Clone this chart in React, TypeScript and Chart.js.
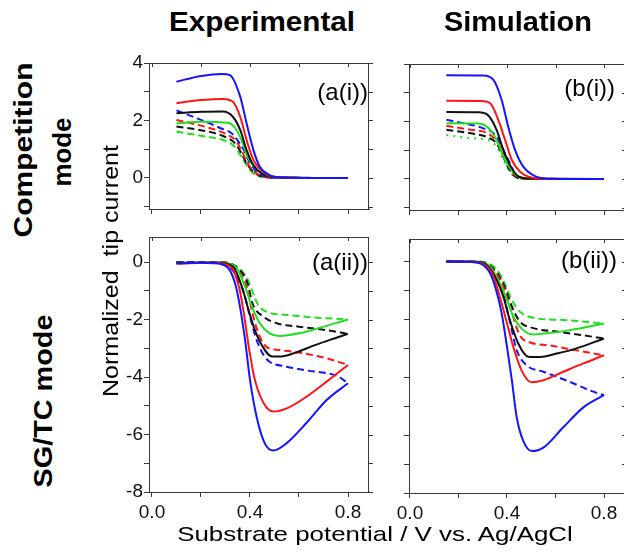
import React, { useEffect, useRef } from 'react';
import { Chart, registerables } from 'chart.js';

Chart.register(...registerables);

// ---------- data (x = substrate potential / V, y = normalized tip current) ----------
// (a(i)) Experimental, competition mode
const aiBlue = [[0.1, 3.35], [0.2, 3.55], [0.285, 3.62], [0.318, 3.58], [0.36, 2.83], [0.386, 1.9], [0.414, 0.97], [0.44, 0.39], [0.48, 0.1], [0.53, 0.02], [0.8, 0.0]];
const aiRed = [[0.1, 2.6], [0.2, 2.71], [0.29, 2.75], [0.33, 2.65], [0.36, 2.13], [0.386, 1.32], [0.414, 0.63], [0.46, 0.17], [0.52, 0.02], [0.8, 0.0]];
const aiBlack = [[0.1, 2.25], [0.2, 2.3], [0.29, 2.31], [0.33, 2.13], [0.36, 1.67], [0.386, 0.97], [0.414, 0.45], [0.46, 0.1], [0.52, 0.02], [0.8, 0.0]];
const aiGreen = [[0.1, 1.9], [0.2, 1.96], [0.31, 1.92], [0.34, 1.73], [0.365, 1.32], [0.39, 0.74], [0.43, 0.28], [0.47, 0.07], [0.52, 0.02], [0.8, 0.0]];
const aiBlueD = [[0.1, 2.35], [0.2, 2.02], [0.28, 1.73], [0.33, 1.52], [0.35, 1.3], [0.375, 0.97], [0.4, 0.51], [0.44, 0.14], [0.5, 0.02], [0.8, 0.0]];
const aiRedD = [[0.1, 2.02], [0.2, 1.82], [0.26, 1.67], [0.31, 1.5], [0.34, 1.32], [0.365, 0.97], [0.39, 0.51], [0.43, 0.14], [0.5, 0.01], [0.8, 0.0]];
const aiBlackD = [[0.1, 1.79], [0.22, 1.63], [0.29, 1.46], [0.34, 1.2], [0.365, 0.86], [0.39, 0.45], [0.43, 0.12], [0.5, 0.01], [0.8, 0.0]];
const aiGreenD = [[0.1, 1.61], [0.22, 1.44], [0.29, 1.32], [0.33, 1.15], [0.365, 0.74], [0.39, 0.39], [0.43, 0.07], [0.5, 0.01], [0.8, 0.0]];

// (b(i)) Simulation, competition mode
const biBlue = [[0.15, 3.61], [0.3, 3.6], [0.344, 3.45], [0.378, 2.75], [0.405, 1.82], [0.433, 1.01], [0.467, 0.43], [0.52, 0.08], [0.57, 0.01], [0.8, 0.0]];
const biRed = [[0.15, 2.72], [0.29, 2.71], [0.33, 2.64], [0.364, 2.06], [0.392, 1.36], [0.42, 0.66], [0.454, 0.25], [0.5, 0.05], [0.55, 0.01], [0.8, 0.0]];
const biBlack = [[0.15, 2.33], [0.28, 2.32], [0.32, 2.23], [0.357, 1.71], [0.385, 1.01], [0.412, 0.49], [0.445, 0.1], [0.5, 0.01], [0.8, 0.0]];
const biGreen = [[0.15, 1.94], [0.28, 1.93], [0.32, 1.8], [0.357, 1.36], [0.385, 0.78], [0.42, 0.29], [0.455, 0.05], [0.5, 0.01], [0.8, 0.0]];
const biBlueD = [[0.15, 2.06], [0.23, 1.92], [0.3, 1.77], [0.357, 1.48], [0.385, 1.01], [0.412, 0.55], [0.44, 0.1], [0.5, 0.01], [0.8, 0.0]];
const biRedD = [[0.15, 1.85], [0.25, 1.71], [0.32, 1.59], [0.364, 1.24], [0.385, 0.9], [0.412, 0.4], [0.445, 0.05], [0.5, 0.0], [0.8, 0.0]];
const biBlackD = [[0.15, 1.71], [0.25, 1.59], [0.32, 1.45], [0.357, 1.24], [0.378, 0.9], [0.405, 0.4], [0.44, 0.05], [0.5, 0.0], [0.8, 0.0]];
const biGreenDot = [[0.15, 1.53], [0.25, 1.42], [0.32, 1.36], [0.357, 1.13], [0.385, 0.66], [0.412, 0.25], [0.445, 0.03], [0.5, 0.0], [0.8, 0.0]];

// (a(ii)) Experimental, SG/TC mode
const aiiBlue = [[0.1, -0.05], [0.2, -0.03], [0.25, -0.04], [0.305, -0.16], [0.339, -0.74], [0.359, -1.55], [0.38, -2.72], [0.4, -4.1], [0.427, -5.38], [0.46, -6.3], [0.495, -6.56], [0.55, -6.3], [0.63, -5.6], [0.713, -4.8], [0.8, -4.22]];
const aiiRed = [[0.1, -0.05], [0.25, -0.03], [0.32, -0.16], [0.355, -0.86], [0.375, -1.79], [0.395, -2.95], [0.42, -4.1], [0.456, -4.91], [0.495, -5.2], [0.55, -5.09], [0.63, -4.69], [0.713, -4.16], [0.8, -3.58]];
const aiiBlack = [[0.1, -0.03], [0.26, -0.02], [0.33, -0.16], [0.367, -0.86], [0.394, -1.67], [0.42, -2.37], [0.448, -2.89], [0.49, -3.29], [0.52, -3.29], [0.58, -3.17], [0.665, -2.89], [0.747, -2.65], [0.8, -2.5]];
const aiiGreen = [[0.1, -0.03], [0.27, -0.02], [0.34, -0.16], [0.38, -0.86], [0.408, -1.55], [0.44, -2.13], [0.48, -2.48], [0.52, -2.57], [0.6, -2.48], [0.68, -2.3], [0.8, -2.0]];
const aiiBlueD = [[0.1, -0.03], [0.28, -0.03], [0.33, -0.3], [0.375, -1.08], [0.4, -1.9], [0.427, -2.71], [0.455, -3.23], [0.48, -3.47], [0.55, -3.64], [0.63, -3.77], [0.713, -3.87], [0.76, -3.98], [0.8, -4.22]];
const aiiRedD = [[0.1, -0.03], [0.3, -0.03], [0.36, -0.4], [0.39, -0.97], [0.41, -1.79], [0.44, -2.6], [0.467, -2.95], [0.52, -3.06], [0.6, -3.15], [0.713, -3.35], [0.8, -3.58]];
const aiiBlackD = [[0.1, 0.0], [0.3, -0.02], [0.36, -0.3], [0.39, -0.74], [0.41, -1.44], [0.455, -1.9], [0.51, -2.13], [0.6, -2.25], [0.713, -2.37], [0.8, -2.5]];
const aiiGreenD = [[0.1, 0.0], [0.3, -0.02], [0.36, -0.25], [0.39, -0.6], [0.43, -1.44], [0.467, -1.73], [0.55, -1.84], [0.665, -1.93], [0.8, -2.0]];

// (b(ii)) Simulation, SG/TC mode
const biiBlue = [[0.15, 0.0], [0.25, -0.01], [0.289, -0.06], [0.33, -0.4], [0.355, -0.98], [0.378, -1.79], [0.4, -2.95], [0.42, -4.1], [0.44, -5.38], [0.467, -6.2], [0.502, -6.55], [0.55, -6.43], [0.632, -5.73], [0.715, -5.04], [0.8, -4.62]];
const biiRed = [[0.15, 0.0], [0.26, -0.01], [0.31, -0.12], [0.344, -0.51], [0.37, -1.21], [0.4, -2.13], [0.426, -2.95], [0.46, -3.76], [0.5, -4.17], [0.55, -4.1], [0.632, -3.81], [0.715, -3.52], [0.8, -3.24]];
const biiBlack = [[0.15, 0.0], [0.27, -0.01], [0.32, -0.15], [0.357, -0.63], [0.385, -1.21], [0.412, -2.03], [0.447, -2.84], [0.488, -3.29], [0.536, -3.3], [0.605, -3.18], [0.687, -3.0], [0.8, -2.66]];
const biiGreen = [[0.15, 0.0], [0.28, -0.01], [0.33, -0.18], [0.37, -0.75], [0.4, -1.33], [0.426, -1.9], [0.467, -2.37], [0.508, -2.52], [0.563, -2.48], [0.66, -2.37], [0.8, -2.14]];
const biiBlueD = [[0.15, 0.0], [0.27, -0.01], [0.34, -0.3], [0.38, -1.0], [0.41, -2.0], [0.44, -3.06], [0.48, -3.58], [0.55, -3.81], [0.66, -4.16], [0.74, -4.45], [0.8, -4.62]];
const biiRedD = [[0.15, 0.0], [0.28, -0.01], [0.35, -0.35], [0.385, -0.86], [0.412, -1.55], [0.453, -2.55], [0.49, -2.78], [0.577, -2.9], [0.687, -3.07], [0.8, -3.24]];
const biiBlackD = [[0.15, 0.0], [0.29, -0.01], [0.355, -0.35], [0.39, -0.86], [0.42, -1.55], [0.453, -2.07], [0.508, -2.3], [0.605, -2.42], [0.715, -2.55], [0.8, -2.66]];
const biiGreenD = [[0.15, 0.0], [0.3, -0.01], [0.36, -0.3], [0.39, -0.75], [0.42, -1.33], [0.453, -1.73], [0.52, -1.96], [0.632, -2.02], [0.8, -2.14]];

// ticks
const X_TICKS = [0, 0.2, 0.4, 0.6, 0.8];
const X_LABELED = [0, 0.4, 0.8];
const Y_TICKS_TOP = [-1, 0, 1, 2, 3, 4];
const Y_TICKS_BOTTOM = [-8, -7, -6, -5, -4, -3, -2, -1, 0];
const Y_LABELED_TOP = [0, 2, 4];
const Y_LABELED_BOTTOM = [-8, -6, -4, -2, 0];

// ---------- styles ----------
const BLUE = '#1414ff';
const RED = '#ff1414';
const BLACK = '#111111';
const GREEN = '#1fe01f';
const AXIS = '#3a3a3a';
const FONT = '"Liberation Sans", Arial, sans-serif';
const DASH = [7, 4];
const DOT = [2, 5];

type Pts = number[][];
type Series = { pts: Pts; color: string; dash: number[] };

const mk = (pts: Pts, color: string, dash: number[] = []): Series => ({ pts, color, dash });

const seriesAI = [mk(aiBlue, BLUE), mk(aiRed, RED), mk(aiBlack, BLACK), mk(aiGreen, GREEN), mk(aiBlueD, BLUE, DASH), mk(aiRedD, RED, DASH), mk(aiBlackD, BLACK, DASH), mk(aiGreenD, GREEN, DASH)];
const seriesBI = [mk(biBlue, BLUE), mk(biRed, RED), mk(biBlack, BLACK), mk(biGreen, GREEN), mk(biBlueD, BLUE, DASH), mk(biRedD, RED, DASH), mk(biBlackD, BLACK, DASH), mk(biGreenDot, GREEN, DOT)];
const seriesAII = [mk(aiiBlue, BLUE), mk(aiiRed, RED), mk(aiiBlack, BLACK), mk(aiiGreen, GREEN), mk(aiiBlueD, BLUE, DASH), mk(aiiRedD, RED, DASH), mk(aiiBlackD, BLACK, DASH), mk(aiiGreenD, GREEN, DASH)];
const seriesBII = [mk(biiBlue, BLUE), mk(biiRed, RED), mk(biiBlack, BLACK), mk(biiGreen, GREEN), mk(biiBlueD, BLUE, DASH), mk(biiRedD, RED, DASH), mk(biiBlackD, BLACK, DASH), mk(biiGreenD, GREEN, DASH)];

const framePlugin = {
  id: 'frame',
  afterDraw(chart: any, _args: any, opts: any) {
    const { ctx, chartArea: a, scales } = chart;
    ctx.save();
    ctx.strokeStyle = AXIS;
    ctx.lineWidth = 1;
    ctx.beginPath();
    ctx.moveTo(a.left, a.top + 0.5);
    ctx.lineTo(a.right, a.top + 0.5);
    ctx.moveTo(a.right - 0.5, a.top);
    ctx.lineTo(a.right - 0.5, a.bottom);
    for (const t of scales.x.ticks) {
      const px = Math.round(scales.x.getPixelForValue(t.value)) + 0.5;
      ctx.moveTo(px, a.top);
      ctx.lineTo(px, a.top + 4);
    }
    const dir = opts && opts.rightInward ? -1 : 1;
    for (const t of scales.y.ticks) {
      const py = Math.round(scales.y.getPixelForValue(t.value)) + 0.5;
      ctx.moveTo(a.right, py);
      ctx.lineTo(a.right + dir * 4, py);
    }
    ctx.stroke();
    ctx.restore();
  },
};

type PanelProps = {
  left: number; top: number; width: number; height: number;
  area: { l: number; t: number; r: number; b: number };
  xMin: number; xMax: number; yMin: number; yMax: number;
  yTicks: number[]; yLabeled: number[]; xLabels: boolean; yLabels: boolean;
  series: Series[]; rightInward: boolean;
};

function Panel(p: PanelProps) {
  const ref = useRef<HTMLCanvasElement>(null);
  useEffect(() => {
    const yW = p.area.l - p.left;
    const padTop = p.area.t - p.top;
    const padRight = p.left + p.width - p.area.r;
    const xH = p.top + p.height - p.area.b;
    const chart = new Chart(ref.current as HTMLCanvasElement, {
      type: 'line',
      data: {
        datasets: p.series.map((s) => ({
          data: s.pts.map(([x, y]) => ({ x, y })),
          borderColor: s.color,
          borderWidth: 2,
          borderDash: s.dash,
          pointRadius: 0,
          fill: false,
          tension: 0.4,
          cubicInterpolationMode: 'monotone',
        })),
      } as any,
      options: {
        responsive: false,
        animation: false,
        devicePixelRatio: 1,
        layout: { padding: { left: 0, top: padTop, right: padRight, bottom: 0 } },
        plugins: { legend: { display: false }, tooltip: { enabled: false }, frame: { rightInward: p.rightInward } } as any,
        scales: {
          x: {
            type: 'linear',
            min: p.xMin,
            max: p.xMax,
            afterBuildTicks: (s: any) => { s.ticks = X_TICKS.map((v) => ({ value: v })); },
            afterFit: (s: any) => { s.height = xH; },
            grid: { drawOnChartArea: false, drawTicks: true, tickLength: 5, color: AXIS },
            border: { display: true, color: AXIS, width: 1 },
            ticks: {
              autoSkip: false,
              maxRotation: 0,
              padding: 4,
              color: '#111',
              font: { family: FONT, size: 19 },
              callback: (v: any) => (p.xLabels && X_LABELED.some((q) => Math.abs(q - v) < 1e-6) ? Number(v).toFixed(1) : ''),
            },
          },
          y: {
            type: 'linear',
            min: p.yMin,
            max: p.yMax,
            afterBuildTicks: (s: any) => { s.ticks = p.yTicks.map((v) => ({ value: v })); },
            afterFit: (s: any) => { s.width = yW; },
            grid: { drawOnChartArea: false, drawTicks: true, tickLength: 5, color: AXIS },
            border: { display: true, color: AXIS, width: 1 },
            ticks: {
              autoSkip: false,
              padding: 1,
              color: '#111',
              font: { family: FONT, size: 19 },
              callback: (v: any) => (p.yLabels && p.yLabeled.includes(Math.round(v)) ? String(Math.round(v)) : ''),
            },
          },
        },
      } as any,
      plugins: [framePlugin],
    });
    return () => chart.destroy();
  }, []);
  return (
    <canvas
      ref={ref}
      width={p.width}
      height={p.height}
      style={{ position: 'absolute', left: p.left, top: p.top, width: p.width, height: p.height }}
    />
  );
}

type TxtProps = { text: string; x: number; y: number; size: number; bold?: boolean; rot?: number; len?: number; right?: boolean };

function Txt({ text, x, y, size, bold, rot, len, right }: TxtProps) {
  let k = 1;
  if (len) {
    const c = document.createElement('canvas').getContext('2d');
    if (c) {
      c.font = `${bold ? 'bold ' : ''}${size}px ${FONT}`;
      const w = c.measureText(text).width;
      if (w > 0) k = len / w;
    }
  }
  return (
    <div
      style={{
        position: 'absolute',
        left: x,
        top: y,
        fontSize: size,
        fontWeight: bold ? 700 : 400,
        lineHeight: 1,
        whiteSpace: 'pre',
        color: '#000',
        transform: `translate(${right ? '-100%' : '-50%'}, -50%) rotate(${rot || 0}deg) scaleX(${k})`,
      }}
    >
      {text}
    </div>
  );
}

export default function App() {
  return (
    <div style={{ position: 'fixed', left: 0, top: 0, width: 624, height: 558, overflow: 'hidden', background: '#fff', fontFamily: FONT }}>
      <Panel left={100} top={40} width={290} height={190} area={{ l: 149, t: 63, r: 369, b: 209 }}
        xMin={-0.0122} xMax={0.8857} yMin={-1.08} yMax={4} yTicks={Y_TICKS_TOP} yLabeled={Y_LABELED_TOP}
        xLabels={false} yLabels={true} series={seriesAI} rightInward={false} />
      <Panel left={360} top={40} width={280} height={190} area={{ l: 409, t: 64, r: 626, b: 210 }}
        xMin={-0.0041} xMax={0.8907} yMin={-1.08} yMax={4} yTicks={Y_TICKS_TOP} yLabeled={Y_LABELED_TOP}
        xLabels={false} yLabels={false} series={seriesBI} rightInward={true} />
      <Panel left={100} top={220} width={290} height={335} area={{ l: 149, t: 237, r: 369, b: 492 }}
        xMin={-0.0122} xMax={0.8857} yMin={-8} yMax={0.87} yTicks={Y_TICKS_BOTTOM} yLabeled={Y_LABELED_BOTTOM}
        xLabels={true} yLabels={true} series={seriesAII} rightInward={false} />
      <Panel left={360} top={220} width={280} height={335} area={{ l: 409, t: 239, r: 626, b: 493 }}
        xMin={-0.0041} xMax={0.8907} yMin={-8} yMax={0.78} yTicks={Y_TICKS_BOTTOM} yLabeled={Y_LABELED_BOTTOM}
        xLabels={true} yLabels={false} series={seriesBII} rightInward={true} />

      <Txt text="Experimental" x={262} y={22} size={28} bold len={186} />
      <Txt text="Simulation" x={518} y={22} size={28} bold len={148} />
      <Txt text="Competition" x={23} y={150} size={26} bold rot={-90} len={175} />
      <Txt text="mode" x={62} y={152} size={26} bold rot={-90} len={69} />
      <Txt text="SG/TC mode" x={43} y={401} size={26} bold rot={-90} len={173} />
      <Txt text="Normalized  tip current" x={111} y={271} size={22} rot={-90} len={252} />
      <Txt text="Substrate potential / V vs. Ag/AgCl" x={375} y={533} size={21} len={397} />
      <Txt text="(a(i))" x={368} y={92} size={24} right />
      <Txt text="(b(i))" x={615} y={88} size={24} right />
      <Txt text="(a(ii))" x={368} y={262} size={24} right />
      <Txt text="(b(ii))" x={617} y={260} size={24} right />
    </div>
  );
}
